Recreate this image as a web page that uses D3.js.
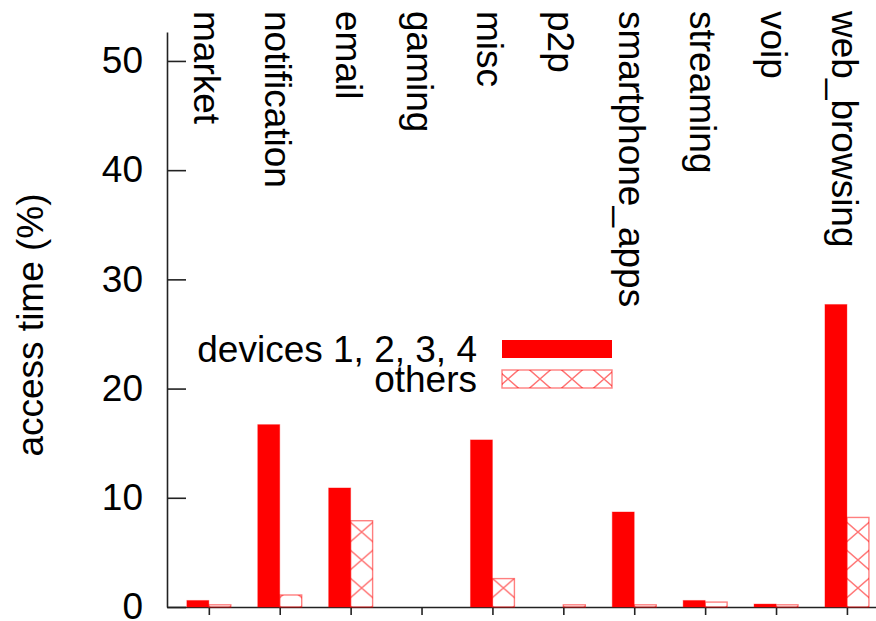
<!DOCTYPE html>
<html>
<head>
<meta charset="utf-8">
<script src="https://cdn.jsdelivr.net/npm/d3@7"></script>
<style>
  body { margin: 0; background: #fff; }
  text { font-family: "Liberation Sans", Arial, Helvetica, sans-serif; }
</style>
</head>
<body>
<div id="chart"></div>
<script>
// categories and values
var categories = ["market", "notification", "email", "gaming", "misc", "p2p",
                  "smartphone_apps", "streaming", "voip", "web_browsing"];
var devices = [0.6, 16.7, 10.9, 0, 15.3, 0, 8.7, 0.6, 0.27, 27.7];
var others  = [0.2, 1.1, 7.9, 0, 2.6, 0.2, 0.2, 0.45, 0.2, 8.2];
var yTicks  = [0, 10, 20, 30, 40, 50];
var seriesNames = ["devices 1, 2, 3, 4", "others"];

var width = 876, height = 621
var fontSize = 37
var barW = 0.31   // bar width in category units

var svg = d3.select("#chart").append("svg")
  .attr("width", width)
  .attr("height", height)

var x = d3.scaleLinear().domain([-0.59, 9.41]).range([167, 876])
var y = d3.scaleLinear().domain([0, 52.65]).range([607, 32])

var defs = svg.append("defs")

// crosshatch pattern, one per hatched shape so the crosses sit centred
function hatch(id, cx, cy) {
  var p = defs.append("pattern")
    .attr("id", id)
    .attr("patternUnits", "userSpaceOnUse")
    .attr("width", 32).attr("height", 28)
    .attr("x", cx - 16).attr("y", cy - 14)
  p.append("path")
    .attr("d", "M0,0L32,28M0,28L32,0")
    .attr("stroke", "#ff0000")
    .attr("stroke-opacity", 0.55)
    .attr("stroke-width", 1.4)
    .attr("fill", "none")
}

// axes
var yAxis = d3.axisLeft(y).tickValues(yTicks).tickSizeInner(-19).tickSizeOuter(0).tickPadding(24)
var gy = svg.append("g").attr("transform", "translate(167,0)").call(yAxis)
gy.selectAll("text").style("font-size", fontSize + "px").attr("fill", "#000")
gy.selectAll("line, path").attr("stroke", "#222").attr("stroke-width", 1.6)

var xAxis = d3.axisBottom(x).tickValues(d3.range(categories.length)).tickSizeInner(8).tickSizeOuter(0).tickFormat("")
var gx = svg.append("g").attr("transform", "translate(0,607)").call(xAxis)
gx.selectAll("line, path").attr("stroke", "#222").attr("stroke-width", 1.6)

// bars
var bars = svg.append("g")
bars.selectAll("rect.dev").data(devices).enter().append("rect")
  .attr("class", "dev")
  .attr("x", function(d, i) { return x(i - barW) })
  .attr("width", function(d, i) { return x(i) - x(i - barW) })
  .attr("y", function(d) { return y(d) })
  .attr("height", function(d) { return y(0) - y(d) })
  .attr("fill", "#ff0000")
  .attr("stroke", "#ff0000").attr("stroke-opacity", 0.35).attr("stroke-width", 1)

others.forEach(function(d, i) {
  var cx = (x(i) + x(i + barW)) / 2
  hatch("hatch" + i, cx, 532)
})
bars.selectAll("rect.oth").data(others).enter().append("rect")
  .attr("class", "oth")
  .attr("x", function(d, i) { return x(i) })
  .attr("width", function(d, i) { return x(i + barW) - x(i) })
  .attr("y", function(d) { return y(d) })
  .attr("height", function(d) { return y(0) - y(d) })
  .attr("fill", function(d, i) { return "url(#hatch" + i + ")" })
  .attr("stroke", "#ff0000").attr("stroke-opacity", 0.5).attr("stroke-width", 1.4)

// category labels, rotated, hanging from the top
svg.append("g").selectAll("text").data(categories).enter().append("text")
  .attr("transform", function(d, i) { return "translate(" + (x(i) - 15) + ",11) rotate(90)" })
  .attr("text-anchor", "start")
  .style("font-size", fontSize + "px")
  .text(function(d) { return d })

// y title
svg.append("text")
  .attr("transform", "translate(43,325) rotate(-90)")
  .attr("text-anchor", "middle")
  .style("font-size", fontSize + "px")
  .text("access time (%)")

// legend
var legend = svg.append("g")
legend.append("text").attr("x", 477).attr("y", 362).attr("text-anchor", "end")
  .style("font-size", fontSize + "px").text(seriesNames[0])
legend.append("rect").attr("x", 502).attr("y", 340).attr("width", 110).attr("height", 18)
  .attr("fill", "#ff0000")
legend.append("text").attr("x", 477).attr("y", 392).attr("text-anchor", "end")
  .style("font-size", fontSize + "px").text(seriesNames[1])
hatch("hatchLegend", 508, 379)
legend.append("rect").attr("x", 502).attr("y", 370).attr("width", 110).attr("height", 18)
  .attr("fill", "url(#hatchLegend)")
  .attr("stroke", "#ff0000").attr("stroke-opacity", 0.5).attr("stroke-width", 1.4)
</script>
</body>
</html>
